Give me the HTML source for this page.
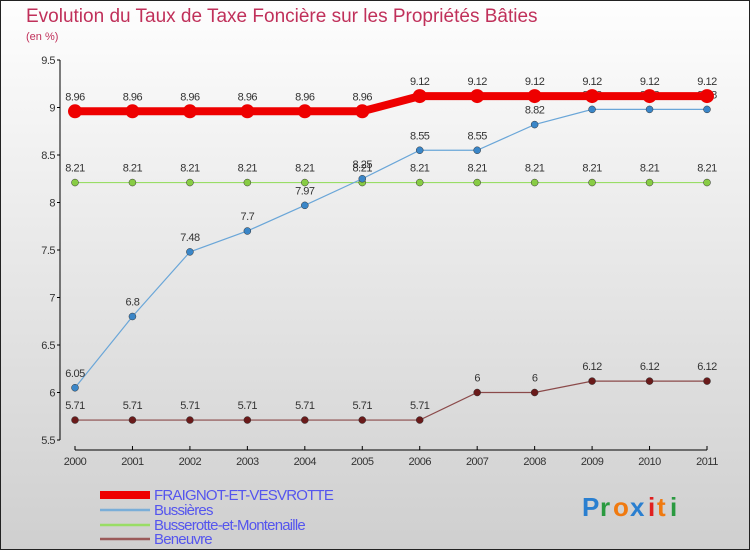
<!DOCTYPE html>
<html><head><meta charset="utf-8"><style>
body{margin:0;width:750px;height:550px;overflow:hidden}
svg{display:block;font-family:"Liberation Sans",sans-serif}
</style></head><body>
<svg id="chart" width="750" height="550" xmlns="http://www.w3.org/2000/svg">
<defs><linearGradient id="bg" x1="0" y1="0" x2="0" y2="1"><stop offset="0" stop-color="#fefefe"/><stop offset="1" stop-color="#cfcfcf"/></linearGradient></defs>
<rect x="0.5" y="0.5" width="749" height="549" fill="url(#bg)" stroke="#222"/>
<text x="26" y="22" font-size="19" fill="#c0305a">Evolution du Taux de Taxe Foncière sur les Propriétés Bâties</text>
<text x="26" y="40" font-size="11" fill="#c0305a">(en %)</text>
<g id="axes"></g><g id="series"></g><g id="legend"></g>
<g font-size="26" font-weight="bold">
<text x="582" y="516" fill="#2a7fd0">P</text><text x="600" y="516" fill="#2a9a40">r</text><text x="613" y="516" fill="#f07a10">o</text><text x="630" y="516" fill="#2a7fd0">x</text><text x="648" y="516" fill="#e02020">i</text><text x="657" y="516" fill="#f07a10">t</text><text x="670" y="516" fill="#2a9a40">i</text></g>
</svg>
<script>
const years=["2000","2001","2002","2003","2004","2005","2006","2007","2008","2009","2010","2011"];
const yTicks=[5.5,6,6.5,7,7.5,8,8.5,9,9.5];
const fraignot=[8.96,8.96,8.96,8.96,8.96,8.96,9.12,9.12,9.12,9.12,9.12,9.12];
const bussieres=[6.05,6.8,7.48,7.7,7.97,8.25,8.55,8.55,8.82,8.98,8.98,8.98];
const busserotte=[8.21,8.21,8.21,8.21,8.21,8.21,8.21,8.21,8.21,8.21,8.21,8.21];
const beneuvre=[5.71,5.71,5.71,5.71,5.71,5.71,5.71,6,6,6.12,6.12,6.12];
const names=["FRAIGNOT-ET-VESVROTTE","Bussières","Busserotte-et-Montenaille","Beneuvre"];
const NS="http://www.w3.org/2000/svg";
const X=i=>75+i*(707-75)/(years.length-1);
const Y=v=>440-(v-5.5)*(380/4);
function mk(t,a,p){const e=document.createElementNS(NS,t);for(const k in a)e.setAttribute(k,a[k]);p.appendChild(e);return e;}
const ax=document.getElementById('axes');
let l=mk('line',{x1:60,y1:Y(9.5),x2:60,y2:Y(5.5),stroke:'#000'},ax);


l=mk('line',{x1:75,y1:450,x2:707,y2:450,stroke:'#000'},ax);


yTicks.forEach(v=>{mk('line',{x1:57,y1:Y(v),x2:60,y2:Y(v),stroke:'#000'},ax);
 const t=mk('text',{x:55,y:Y(v)+4,'font-size':11,'text-anchor':'end',fill:'#333','letter-spacing':'-0.5'},ax);t.textContent=v;
 
 });
years.forEach((y,i)=>{mk('line',{x1:X(i),y1:446,x2:X(i),y2:450,stroke:'#000'},ax);
 const t=mk('text',{x:X(i),y:465,'font-size':11,'text-anchor':'middle',fill:'#333','letter-spacing':'-0.5'},ax);t.textContent=y;
 
 });
const sg=document.getElementById('series');
function series(data,name,col,dot,w,r){
 const g=mk('g',{},sg);
 
 
 mk('polyline',{points:data.map((v,i)=>X(i)+','+Y(v)).join(' '),fill:'none',stroke:col,'stroke-width':w},g);
 data.forEach((v,i)=>{const c=mk('circle',{cx:X(i),cy:Y(v),r:r,fill:dot,stroke:w>3?'none':'#333','stroke-width':0.5},g);
  
  
  const t=mk('text',{x:X(i),y:Y(v)-11,'font-size':11,'text-anchor':'middle',fill:'#333','letter-spacing':'-0.5'},g);t.textContent=v;
  
  });
}
series(beneuvre,'series-beneuvre','#8b4a4a','#6a1a1a',1.2,3.5);
series(busserotte,'series-busserotte','#99dd66','#88cc44',1.2,3.5);
series(bussieres,'series-bussieres','#6aa6d8','#3a86c8',1.2,3.5);
series(fraignot,'series-fraignot','#ee0000','#ee0000',8,7);
const lg=document.getElementById('legend');
const lc=['#ee0000','#7aaed8','#99dd66','#9a5a5a'],lw=[8,2.5,2.5,2.5],ly=[493,508,523,537];
names.forEach((n,i)=>{const g=mk('g',{},lg);
 
 
 mk('line',{x1:100,y1:ly[i]+2,x2:150,y2:ly[i]+2,stroke:lc[i],'stroke-width':lw[i]},g);
 const t=mk('text',{x:154,y:ly[i]+7,'font-size':15,fill:'#5555ee','letter-spacing':'-0.8'},g);t.textContent=n;});
</script>
</body></html>
